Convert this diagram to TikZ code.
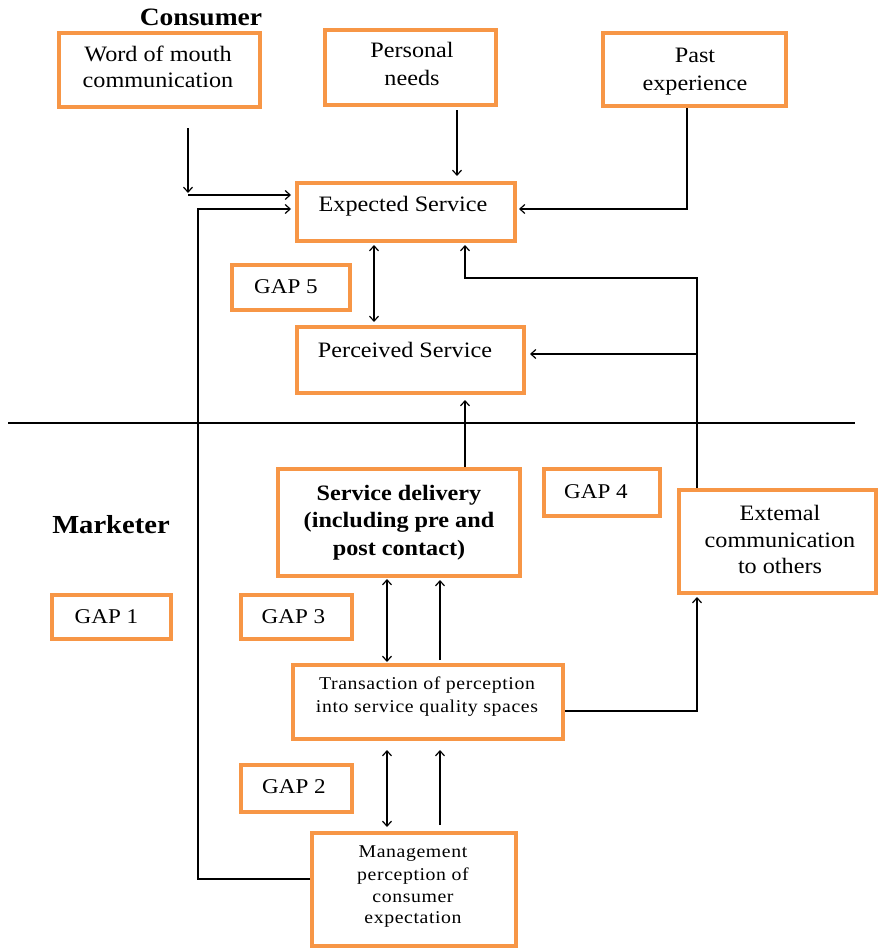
\documentclass[tikz,border=0pt]{standalone}
\usepackage{fontspec}
\setmainfont{Liberation Serif}[FakeStretch=1.1]
\newfontfamily\smallfont{Liberation Serif}[FakeStretch=1.1,LetterSpace=3.3]
\usetikzlibrary{arrows.meta}
\definecolor{boxorange}{HTML}{F79646}
\tikzset{
  box/.style={draw=boxorange, line width=4pt, inner sep=0pt, rectangle},
  txt/.style={anchor=base, inner sep=0pt, font=\fontsize{22}{26}\selectfont},
  gaptxt/.style={anchor=base, inner sep=0pt, font=\fontsize{21}{25}\selectfont},
  boldtxt/.style={anchor=base, inner sep=0pt, font=\fontsize{22}{26}\selectfont\bfseries},
  headtxt/.style={anchor=base, inner sep=0pt, font=\fontsize{25}{30}\selectfont\bfseries},
  smalltxt/.style={anchor=base, inner sep=0pt, font=\smallfont\fontsize{18}{22}\selectfont},
  conn/.style={draw=black, line width=1.2pt},
  arr/.style={conn, -{Straight Barb[length=5pt,width=9pt]}},
  darr/.style={conn, {Straight Barb[length=5pt,width=9pt]}-{Straight Barb[length=5pt,width=9pt]}},
}
\begin{document}
\begin{tikzpicture}[x=1pt,y=-1pt]
\useasboundingbox (0,0) rectangle (878,950);

% boxes
\node[box, minimum width=201pt, minimum height=74pt] (wom) at (159.5,70) {};
\node[box, minimum width=171pt, minimum height=75pt] (pn) at (410.5,67.5) {};
\node[box, minimum width=183pt, minimum height=73pt] (pe) at (694.5,69.5) {};
\node[box, minimum width=218pt, minimum height=58pt] (es) at (406,212) {};
\node[box, minimum width=118pt, minimum height=45pt] (g5) at (291,287.5) {};
\node[box, minimum width=227pt, minimum height=66pt] (ps) at (410.5,360) {};
\node[box, minimum width=242pt, minimum height=107pt] (sd) at (399,522.5) {};
\node[box, minimum width=116pt, minimum height=47pt] (g4) at (602,492.5) {};
\node[box, minimum width=197pt, minimum height=103pt] (ec) at (777.5,541.5) {};
\node[box, minimum width=119pt, minimum height=44pt] (g1) at (111.5,617) {};
\node[box, minimum width=111pt, minimum height=44pt] (g3) at (296.5,617) {};
\node[box, minimum width=270pt, minimum height=74pt] (tr) at (428,702) {};
\node[box, minimum width=111pt, minimum height=47pt] (g2) at (296.5,788.5) {};
\node[box, minimum width=204pt, minimum height=113pt] (mg) at (414,889.5) {};

% texts
\node[headtxt] (consumer) at (201,26) {Consumer};
\node[headtxt, font=\fontsize{26}{30}\selectfont\bfseries] (marketer) at (111,533) {Marketer};
\node[txt] (womA) at (158,62) {Word of mouth};
\node[txt] (womB) at (158,88) {communication};
\node[txt] (pnA) at (412,58) {Personal};
\node[txt] (pnB) at (412,85) {needs};
\node[txt] (peA) at (695,63) {Past};
\node[txt] (peB) at (695,90) {experience};
\node[txt] (esT) at (403,211) {Expected Service};
\node[gaptxt] (g5T) at (286,293) {GAP 5};
\node[txt] (psT) at (405,357) {Perceived Service};
\node[boldtxt] (sdA) at (399,500) {Service delivery};
\node[boldtxt] (sdB) at (399,527) {(including pre and};
\node[boldtxt] (sdC) at (399,555) {post contact)};
\node[gaptxt] (g4T) at (596,498) {GAP 4};
\node[txt] (ecA) at (780,520) {Extemal};
\node[txt] (ecB) at (780,547) {communication};
\node[txt] (ecC) at (780,573) {to others};
\node[gaptxt] (g1T) at (106.5,623) {GAP 1};
\node[gaptxt] (g3T) at (293.5,623) {GAP 3};
\node[gaptxt] (g2T) at (294,793) {GAP 2};
\node[smalltxt] (trA) at (427,689) {Transaction of perception};
\node[smalltxt] (trB) at (427,712) {into service quality spaces};
\node[smalltxt] (mgA) at (413,857) {Management};
\node[smalltxt] (mgB) at (413,880) {perception of};
\node[smalltxt] (mgC) at (413,902) {consumer};
\node[smalltxt] (mgD) at (413,923) {expectation};

% divider
\coordinate (divL) at (8,423);
\coordinate (divR) at (855,423);
\draw[conn] (divL) -- (divR);

% helper coordinates
\coordinate (womS) at (188,128);
\coordinate (womE) at (188,193);
\coordinate (womC) at (188,195);
\coordinate (loopA) at (198,879);
\coordinate (loopB) at (198,209);
\coordinate (pnX) at (457,0);
\coordinate (peA2) at (687,209);
\coordinate (g5x) at (374,0);
\coordinate (ecUp) at (697,278);
\coordinate (esIn) at (465,278);
\coordinate (brA) at (697,354);
\coordinate (c387) at (387,0);
\coordinate (c440) at (440,0);
\coordinate (trR) at (697,711);

% connectors
\draw[arr] (womS) -- (womE);
\draw[arr, shorten >=4pt] (womC) -- (womC -| es.west);
\draw[arr, shorten >=4pt] (mg.west |- loopA) -- (loopA) -- (loopB) -- (loopB -| es.west);
\draw[arr, shorten <=3pt, shorten >=5pt] (pnX |- pn.south) -- (pnX |- es.north);
\draw[arr, shorten >=2pt] (peA2 |- pe.south) -- (peA2) -- (peA2 -| es.east);
\draw[darr, shorten <=2pt, shorten >=3pt] (g5x |- es.south) -- (g5x |- ps.north);
\draw[arr, shorten >=2pt] (ecUp |- ec.north) -- (ecUp) -- (esIn) -- (esIn |- es.south);
\draw[arr, shorten >=4pt] (brA) -- (brA -| ps.east);
\draw[arr, shorten >=5pt] (esIn |- sd.north) -- (esIn |- ps.south);
\draw[darr, shorten <=1pt, shorten >=1pt] (c387 |- sd.south) -- (c387 |- tr.north);
\draw[arr, shorten <=3pt, shorten >=2pt] (c440 |- tr.north) -- (c440 |- sd.south);
\draw[arr, shorten >=2pt] (tr.east |- trR) -- (trR) -- (trR |- ec.south);
\draw[darr, shorten <=9pt, shorten >=4pt] (c387 |- tr.south) -- (c387 |- mg.north);
\draw[arr, shorten <=6pt, shorten >=9pt] (c440 |- mg.north) -- (c440 |- tr.south);
\end{tikzpicture}
\end{document}
